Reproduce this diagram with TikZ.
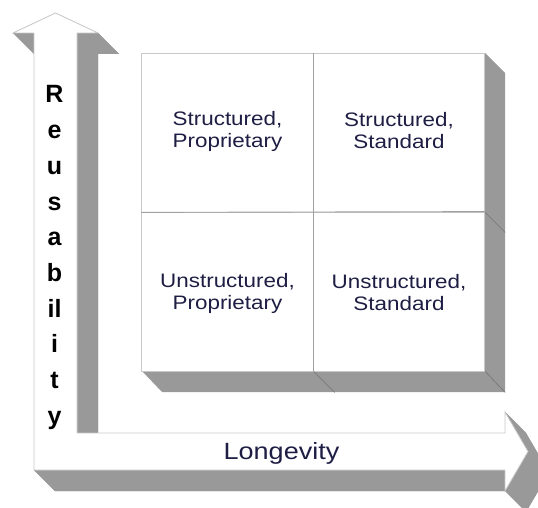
\documentclass[tikz,border=0pt]{standalone}
\usepackage{fontspec}
\setmainfont{Liberation Sans}
\newfontfamily\labfont[FakeStretch=1.15]{Liberation Sans}
\definecolor{bevel}{HTML}{999999}
\definecolor{rim}{HTML}{C8C8C8}
\definecolor{midline}{HTML}{A0A0A0}
\definecolor{ink}{HTML}{1E1E44}
\tikzset{
  face/.style={fill=white,draw=rim,line width=0.8pt,line join=miter},
  shade3d/.style={fill=bevel,draw=none},
  cellbox/.style={draw=rim,line width=0.8pt,minimum width=171.5pt,minimum height=159pt,inner sep=0pt},
  celltext/.style={align=center,font=\labfont\fontsize{19.5}{22}\selectfont,text=ink},
  axisletter/.style={anchor=base,font=\bfseries\fontsize{25}{25}\selectfont,text=black,inner sep=0pt},
  axistitle/.style={anchor=base,font=\labfont\fontsize{23.5}{25}\selectfont,text=ink,inner sep=0pt},
  divline/.style={draw=black!55,line width=0.6pt}
}
\begin{document}
\begin{tikzpicture}[x=1pt,y=-1pt]
\useasboundingbox (0,0) rectangle (538,508);
% ---- L-shaped double arrow: extrusion (gray) ----
\def\arrowpts{(34,470),(34,33),(13,33),(55.5,13),(98,33),(77,33),(77,433),(505,433),(505,412),(528,451.5),(505,491),(505,470)}
\begin{scope}[shift={(21,21)}]
  \fill[bevel] (34,470)--(34,33)--(13,33)--(55.5,13)--(98,33)--(77,33)--(77,433)--(505,433)--(505,412)--(528,451.5)--(505,491)--(505,470)--cycle;
\end{scope}
\foreach \ax/\ay/\bx/\by in {34/470/34/33, 34/33/13/33, 13/33/55.5/13, 55.5/13/98/33, 98/33/77/33, 77/33/77/433, 77/433/505/433, 505/433/505/412, 505/412/528/451.5, 528/451.5/505/491, 505/491/505/470, 505/470/34/470}{
  \fill[bevel] (\ax,\ay)--(\bx,\by)--(\bx+21,\by+21)--(\ax+21,\ay+21)--cycle;
}
% ---- arrow face ----
\path[face] (34,470)--(34,33)--(13,33)--(55.5,13)--(98,33)--(77,33)--(77,433)--(505,433)--(505,412)--(528,451.5)--(505,491)--(505,470)--cycle;
% ---- grid extrusion ----
\fill[bevel] (485,53)--(505,73)--(505,392)--(162,392)--(142,371)--(485,371)--cycle;
% ---- grid cells ----
\node[cellbox,fill=white] (c11) at (227.5,132.5) {};
\node[cellbox,fill=white] (c12) at (399,132.5) {};
\node[cellbox,fill=white] (c21) at (227.5,291.5) {};
\node[cellbox,fill=white] (c22) at (399,291.5) {};
\draw[draw=midline,line width=0.9pt] (c11.north east) -- (c21.south east);
\draw[draw=midline,line width=0.9pt] (c11.south west) -- (c22.north east);
\draw[divline] (c21.south east) -- ++(21,21);
\draw[divline] (c22.south east) -- ++(20,21);
\draw[divline] (c12.south east) -- ++(20,20);
\node[celltext] (t11) at (227.5,131) {Structured,\\Proprietary};
\node[celltext] (t12) at (399,131) {Structured,\\Standard};
\node[celltext] (t21) at (227.5,293) {Unstructured,\\Proprietary};
\node[celltext] (t22) at (399,293) {Unstructured,\\Standard};
% ---- axis labels ----
\foreach \ch [count=\k from 0] in {R,e,u,s,a,b,il,i,t,y}{
  \node[axisletter] (r\k) at (54.5,103+35.7*\k) {\ch};
}
\node[axistitle] (lon) at (281.5,459) {Longevity};
\end{tikzpicture}
\end{document}
